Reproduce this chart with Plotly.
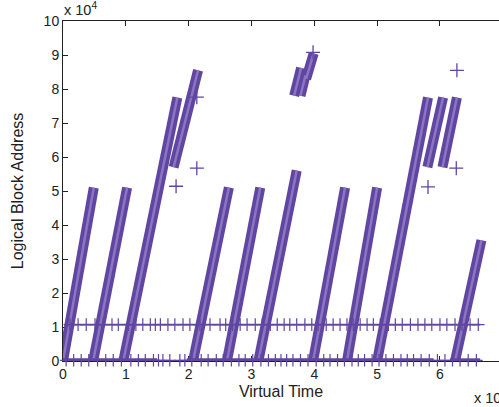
import plotly.graph_objects as go

# units: time in 1e5, address in 1e4
band_t0 = [0.00, 0.48, 0.96, 1.76, 2.07, 2.61, 3.11, 3.98, 4.52, 5.00, 5.80, 6.04, 6.24, 3.68, 3.78, 3.87]
band_a0 = [0.00, 0.00, 0.00, 5.70, 0.00, 0.00, 0.00, 0.00, 0.00, 0.00, 5.70, 5.70, 0.00, 7.80, 7.80, 8.30]
band_t1 = [0.49, 1.02, 1.82, 2.15, 2.64, 3.14, 3.72, 4.49, 5.00, 5.81, 6.05, 6.27, 6.66, 3.79, 3.86, 3.99]
band_a1 = [5.10, 5.10, 7.75, 8.55, 5.10, 5.10, 5.60, 5.10, 5.10, 7.75, 7.75, 7.75, 3.55, 8.62, 8.40, 9.05]

outlier_t = [1.80, 2.13, 2.13, 5.81, 6.26, 6.27, 3.98]
outlier_a = [5.14, 5.67, 7.76, 5.12, 5.67, 8.55, 9.08]

row_a = [0.02, 1.07]
row0_spans = [(0.00, 1.50), (1.97, 5.90), (6.16, 6.64)]
row1_spans = [(0.08, 6.64)]

row1_ticks = [0.11, 0.24, 0.37, 0.51, 0.64, 0.78, 0.88, 1.04, 1.16, 1.27, 1.39, 1.47, 1.55, 1.67,
              1.78, 1.91, 2.02, 2.18, 2.34, 2.50, 2.59, 2.70, 2.82, 2.93, 3.06, 3.17, 3.30, 3.41,
              3.52, 3.61, 3.72, 3.85, 3.96, 4.06, 4.19, 4.30, 4.41, 4.52, 4.62, 4.73, 4.84, 4.94,
              5.05, 5.18, 5.29, 5.40, 5.53, 5.65, 5.76, 5.87, 6.00, 6.11, 6.24, 6.35, 6.48, 6.61]
row0_ticks = [0.05, 0.17, 0.29, 0.41, 0.55, 0.68, 0.80, 0.93, 1.08, 1.20, 1.31, 1.44, 1.52, 1.59,
              1.70, 1.86, 1.94, 2.05, 2.20, 2.31, 2.44, 2.55, 2.68, 2.80, 2.90, 3.02, 3.15, 3.27,
              3.38, 3.47, 3.56, 3.66, 3.78, 3.90, 4.03, 4.15, 4.25, 4.37, 4.48, 4.60, 4.70, 4.80,
              4.92, 5.03, 5.14, 5.26, 5.38, 5.48, 5.58, 5.70, 5.83, 5.96, 6.08, 6.20, 6.32, 6.45, 6.58]

x_ticks = [0, 1, 2, 3, 4, 5, 6, 7]
y_ticks = [0, 1, 2, 3, 4, 5, 6, 7, 8, 9, 10]

PURPLE = "rgb(96,70,160)"
FONT = "Liberation Sans, Arial, sans-serif"
TXT = "#222"

fig = go.Figure()

bx, by = [], []
for t0, a0, t1, a1 in zip(band_t0, band_a0, band_t1, band_a1):
    bx += [t0, t1, None]
    by += [a0, a1, None]
fig.add_trace(go.Scatter(x=bx, y=by, mode="lines",
                         line=dict(color=PURPLE, width=10), hoverinfo="skip"))
fig.add_trace(go.Scatter(x=bx, y=by, mode="lines",
                         line=dict(color="rgb(138,118,194)", width=2.5), hoverinfo="skip"))

for spans, a, w in [(row0_spans, row_a[0], 4), (row1_spans, row_a[1], 1.6)]:
    rx, ry = [], []
    for s, e in spans:
        rx += [s, e, None]
        ry += [a, a, None]
    fig.add_trace(go.Scatter(x=rx, y=ry, mode="lines",
                             line=dict(color=PURPLE, width=w), hoverinfo="skip"))

for ticks, a in [(row0_ticks, row_a[0]), (row1_ticks, row_a[1])]:
    fig.add_trace(go.Scatter(x=ticks, y=[a] * len(ticks), mode="markers", cliponaxis=False,
                             marker=dict(symbol="cross-thin", size=9,
                                         line=dict(color=PURPLE, width=1.2)),
                             hoverinfo="skip"))

fig.add_trace(go.Scatter(x=outlier_t, y=outlier_a, mode="markers", cliponaxis=False,
                         marker=dict(symbol="cross-thin", size=10,
                                     line=dict(color=PURPLE, width=1.3)),
                         hoverinfo="skip"))

axis_common = dict(showgrid=False, zeroline=False, showline=True, linecolor=TXT,
                   linewidth=1, ticks="inside", ticklen=5, tickcolor=TXT,
                   tickfont=dict(family=FONT, size=14, color=TXT),
                   layer="below traces", automargin=False)

fig.update_xaxes(range=[0, 6.94], tickvals=x_ticks, mirror="ticks",
                 title=dict(text="Virtual Time", font=dict(family=FONT, size=16, color=TXT),
                            standoff=5),
                 **axis_common)
fig.update_yaxes(range=[0, 10], tickvals=y_ticks, mirror=False,
                 title=dict(text="Logical Block Address", font=dict(family=FONT, size=16, color=TXT),
                            standoff=16),
                 **axis_common)

fig.add_annotation(text="x 10<sup>4</sup>", xref="paper", yref="paper", x=-0.003, y=1.035,
                   xanchor="left", yanchor="middle", showarrow=False,
                   font=dict(family=FONT, size=14.5, color=TXT))
fig.add_annotation(text="x 10<sup>5</sup>", xref="paper", yref="paper", x=0.937, y=-0.105,
                   xanchor="left", yanchor="middle", showarrow=False,
                   font=dict(family=FONT, size=14.5, color=TXT))

fig.update_layout(width=499, height=407, margin=dict(l=63, r=0, t=21, b=46),
                  paper_bgcolor="white", plot_bgcolor="white", showlegend=False)

# remove the page's default 8px body margin so the figure fills the window exactly
fig.write_html("out.html", config={"displayModeBar": False},
               post_script="document.body.style.margin='0';")
